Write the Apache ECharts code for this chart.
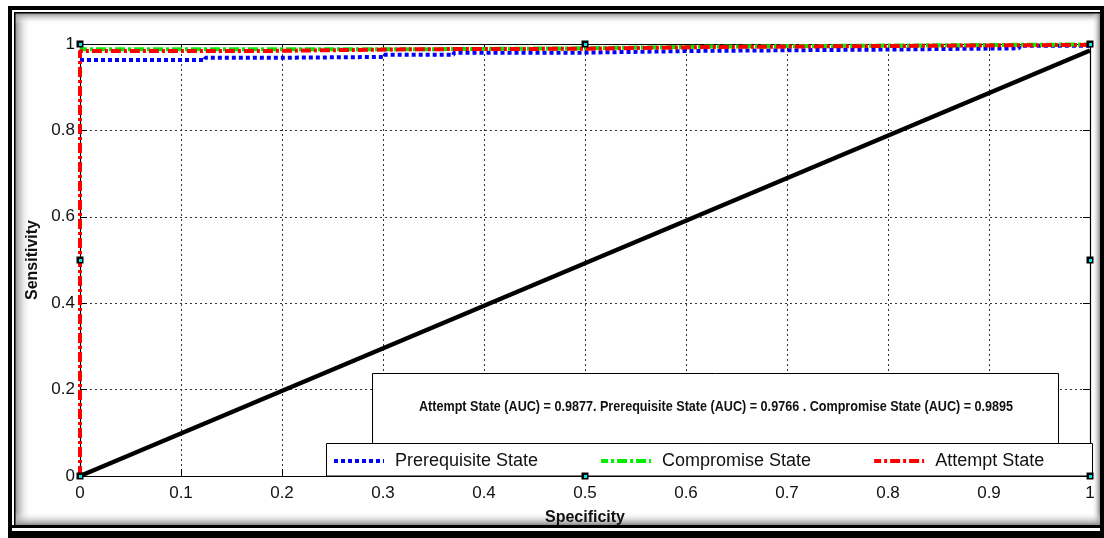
<!DOCTYPE html>
<html><head><meta charset="utf-8">
<script src="https://cdn.jsdelivr.net/npm/echarts@6/dist/echarts.min.js"></script>
<style>html,body{margin:0;padding:0;background:#fff}#c{width:1104px;height:538px}</style>
</head><body><div id="c"></div>
<script>
// ---- data ----
const xTicks = [0,0.1,0.2,0.3,0.4,0.5,0.6,0.7,0.8,0.9,1];
const yTicks = [0,0.2,0.4,0.6,0.8,1];
const seriesNames = ['Prerequisite State','Compromise State','Attempt State'];
// ROC breakpoints: specificity (x) and sensitivity (y)
const prereqX = [0, 0.124, 0.19, 0.30, 0.37, 0.50, 0.61, 0.79, 0.93, 1];
const prereqY = [0.963, 0.968, 0.970, 0.975, 0.980, 0.984, 0.987, 0.990, 0.996, 1];
const compX = [0, 0.35, 0.50, 0.62, 0.85, 1];
const compY = [0.988, 0.990, 0.994, 0.997, 0.999, 1];
const attX = [0, 0, 0.19, 0.26, 0.34, 0.50, 0.62, 0.85, 1];
const attY = [0, 0.984, 0.986, 0.988, 0.989, 0.993, 0.996, 0.998, 1];
const chanceX = [0, 1];
const chanceY = [0, 0.985];
const aucText = 'Attempt State (AUC) = 0.9877. Prerequisite State (AUC) = 0.9766 . Compromise State (AUC) = 0.9895';

const zip = (xs, ys) => xs.map((x, i) => [x, ys[i]]);
const chart = echarts.init(document.getElementById('c'), null, {renderer: 'canvas'});
const FONT = 'Liberation Sans, Arial, sans-serif';
const fmt = v => String(+v.toFixed(1));
const colors = ['#0000ff', '#00ee00', '#ff0000'];

const axisCommon = {
  type: 'value', min: 0, max: 1,
  axisLine: {show: true, onZero: false, lineStyle: {color: '#000', width: 1.2}},
  axisTick: {show: true, inside: true, length: 7, lineStyle: {color: '#000'}},
};
const option = {
  animation: false,
  backgroundColor: '#fff',
  color: colors,
  grid: {left: 80, right: 14, top: 44, bottom: 62, containLabel: false},
  xAxis: [
    Object.assign({}, axisCommon, {
      interval: 0.1, position: 'bottom',
      name: 'Specificity', nameLocation: 'middle', nameGap: 34,
      nameTextStyle: {fontFamily: FONT, fontWeight: 'bold', fontSize: 16, color: '#111'},
      axisLabel: {fontFamily: FONT, fontSize: 17, color: '#111', margin: 9, formatter: fmt},
      splitLine: {show: true, lineStyle: {color: '#333', type: [2, 3], width: 1}},
    }),
    Object.assign({}, axisCommon, {
      interval: 0.1, position: 'top', axisLabel: {show: false}, splitLine: {show: false}
    })
  ],
  yAxis: [
    Object.assign({}, axisCommon, {
      interval: 0.2, position: 'left',
      name: 'Sensitivity', nameLocation: 'middle', nameGap: 37, nameRotate: 90,
      nameTextStyle: {fontFamily: FONT, fontWeight: 'bold', fontSize: 16, color: '#111'},
      axisLabel: {fontFamily: FONT, fontSize: 17, color: '#111', margin: 5, formatter: fmt},
      splitLine: {show: true, lineStyle: {color: '#333', type: [2, 3], width: 1}},
    }),
    Object.assign({}, axisCommon, {
      interval: 0.2, position: 'right', axisLabel: {show: false}, splitLine: {show: false}
    })
  ],
  legend: {
    show: true,
    left: 332, top: 452,
    itemWidth: 50, itemHeight: 14, itemGap: 61,
    padding: 0,
    itemStyle: {opacity: 0, borderWidth: 0},
    lineStyle: {width: 4},
    textStyle: {fontFamily: FONT, fontSize: 18, color: '#111', padding: [0, 0, 0, 6]},
    data: seriesNames,
    z: 30
  },
  series: [
    {
      name: 'chance', type: 'line', data: zip(chanceX, chanceY), symbol: 'none',
      lineStyle: {color: '#000', width: 4.5}, clip: false, z: 2, silent: true
    },
    {
      name: seriesNames[0], type: 'line', step: 'end', data: zip(prereqX, prereqY), symbol: 'none',
      itemStyle: {color: colors[0]},
      lineStyle: {color: colors[0], width: 4, type: [4, 3]}, clip: false, z: 3
    },
    {
      name: seriesNames[1], type: 'line', step: 'end', data: zip(compX, compY), symbol: 'none',
      itemStyle: {color: colors[1]},
      lineStyle: {color: colors[1], width: 4, type: [10, 3, 3, 3], dashOffset: 3}, clip: false, z: 4
    },
    {
      name: seriesNames[2], type: 'line', step: 'end', data: zip(attX, attY), symbol: 'none',
      itemStyle: {color: colors[2]},
      lineStyle: {color: colors[2], width: 4, type: [10, 3, 3, 3]}, clip: false, z: 5
    }
  ]
};
chart.setOption(option);

// decorations positioned from the axes
const px = (x, y) => chart.convertToPixel({gridIndex: 0}, [x, y]);
const p00 = px(0, 0);
const graphics = [];
const grad = (x0, y0, x1, y1, c0, c1) => ({type: 'linear', x: x0, y: y0, x2: x1, y2: y1,
  colorStops: [{offset: 0, color: c0}, {offset: 1, color: c1}]});
// shading inside the figure frame (behind chart content)
graphics.push({type: 'rect', shape: {x: 15, y: 13, width: 16, height: 512}, style: {fill: grad(0,0,1,0,'#8c8c8c','rgba(255,255,255,0)')}, z: -5});
graphics.push({type: 'rect', shape: {x: 15, y: 13, width: 1085, height: 11}, style: {fill: grad(0,0,0,1,'#8c8c8c','rgba(255,255,255,0)')}, z: -5});
graphics.push({type: 'rect', shape: {x: 1092, y: 13, width: 8, height: 512}, style: {fill: grad(0,0,1,0,'rgba(255,255,255,0)','#8c8c8c')}, z: -5});
graphics.push({type: 'rect', shape: {x: 15, y: 512, width: 1085, height: 13}, style: {fill: grad(0,0,0,1,'rgba(255,255,255,0)','#8c8c8c')}, z: -5});
// black frame bands
const black = (x, y, w, h) => graphics.push({type: 'rect', shape: {x: x, y: y, width: w, height: h}, style: {fill: '#000'}, z: 100});
black(8, 6, 1096, 4);
black(14, 12, 1086, 1.5);
black(8, 6, 4, 532);
black(14, 12, 1.5, 513);
black(1100, 6, 4, 532);
black(8, 525, 1096, 3);
black(8, 531, 1096, 7);
// AUC annotation box
graphics.push({type: 'rect', shape: {x: 372.5, y: 373.5, width: 686, height: 70}, style: {fill: '#fff', stroke: '#000', lineWidth: 1}, z: 10});
graphics.push({type: 'text', x: 716, y: 407, scaleX: 0.84, style: {text: aucText, font: 'bold 15px "Liberation Sans", Arial, sans-serif', fill: '#111', align: 'center', verticalAlign: 'middle'}, z: 11});
// legend box
graphics.push({type: 'rect', shape: {x: 326.5, y: 443.5, width: 766, height: p00[1] - 443.5}, style: {fill: '#fff', stroke: '#000', lineWidth: 1}, z: 10});
// selection handles
const handles = [[0,1],[0.5,1],[1,1],[0,0.5],[1,0.5],[0,0],[0.5,0],[1,0]];
handles.forEach(h => {
  const p = px(h[0], h[1]);
  graphics.push({type: 'rect', shape: {x: p[0] - 3.5, y: p[1] - 3.5, width: 7, height: 7}, style: {fill: '#000'}, z: 60});
  graphics.push({type: 'rect', shape: {x: p[0] - 1, y: p[1] - 1, width: 3, height: 3}, style: {fill: '#00e5ee'}, z: 61});
});
chart.setOption({graphic: graphics});
</script></body></html>
